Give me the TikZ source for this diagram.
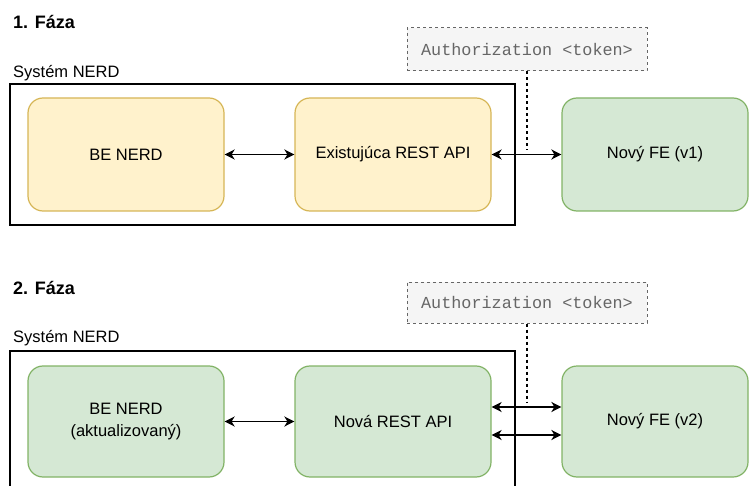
\documentclass[tikz,border=0pt]{standalone}
\usepackage{fontspec}
\setmainfont{Liberation Sans}
\newfontfamily\authmono{Liberation Mono}
\usetikzlibrary{arrows.meta}
\definecolor{yfill}{HTML}{FFF2CC}
\definecolor{ydraw}{HTML}{D6B656}
\definecolor{gfill}{HTML}{D5E8D4}
\definecolor{gdraw}{HTML}{82B366}
\definecolor{afill}{HTML}{F5F5F5}
\definecolor{adraw}{HTML}{666666}
\definecolor{atext}{HTML}{666666}
\tikzset{
  base/.style={rectangle, rounded corners=15pt, line width=1.2pt, align=center,
    font=\fontsize{16.5}{22}\selectfont, inner sep=0pt},
  ybox/.style={base, fill=yfill, draw=ydraw},
  gbox/.style={base, fill=gfill, draw=gdraw},
  sysbox/.style={rectangle, draw=black, line width=1.3pt, inner sep=0pt},
  authbox/.style={rectangle, draw=adraw, fill=afill, dash pattern=on 3pt off 3pt,
    line width=1pt, inner sep=0pt, font=\authmono\fontsize{16.8}{20}\selectfont, text=atext},
  title/.style={anchor=west, inner sep=0pt, font=\bfseries\fontsize{18}{22}\selectfont},
  syslabel/.style={anchor=west, inner sep=0pt, font=\fontsize{16.5}{20}\selectfont},
  link/.style={line width=1.8pt, {Stealth[length=10pt,width=10pt,inset=3pt]}-{Stealth[length=10pt,width=10pt,inset=3pt]}},
  dotline/.style={line width=1.6pt, dash pattern=on 3pt off 3pt, draw=black},
}
\begin{document}
\begin{tikzpicture}[x=1pt,y=-1pt]
\useasboundingbox (0,0) rectangle (749,486);
% Phase 1
\node[title] (t1) at (13,22) {1. Fáza};
\node[syslabel] (s1) at (13,73) {Systém NERD};
\node[sysbox, minimum width=505pt, minimum height=141pt] (sys1) at (262.5,154.5) {};
\node[ybox, minimum width=196pt, minimum height=113pt] (be1) at (126,154.5) {BE NERD};
\node[ybox, minimum width=196pt, minimum height=113pt] (api1) at (393,154.5) {Existujúca REST API};
\node[gbox, minimum width=186pt, minimum height=113pt] (fe1) at (655,154.5) {Nový FE (v1)};
\node[authbox, minimum width=240pt, minimum height=43pt] (auth1) at (527,49.5) {Authorization <token>};
\coordinate (d1) at (527,150);
\draw[link] (be1.east) -- (api1.west);
\draw[link] (api1.east) -- (fe1.west);
\draw[dotline] (auth1.south) -- (d1);
% Phase 2
\node[title] (t2) at (13,288) {2. Fáza};
\node[syslabel] (s2) at (13,338) {Systém NERD};
\node[sysbox, minimum width=505pt, minimum height=160pt] (sys2) at (262.5,431) {};
\node[gbox, minimum width=196pt, minimum height=111pt] (be2) at (126,421.5) {BE NERD\\(aktualizovaný)};
\node[gbox, minimum width=196pt, minimum height=111pt] (api2) at (393,421.5) {Nová REST API};
\node[gbox, minimum width=186pt, minimum height=111pt] (fe2) at (655,421.5) {Nový FE (v2)};
\node[authbox, minimum width=240pt, minimum height=41pt] (auth2) at (527,302.5) {Authorization <token>};
\coordinate (d2) at (527,403);
\draw[link] (be2.east) -- (api2.west);
\draw[link] ([yshift=14.5pt]api2.east) -- ([yshift=14.5pt]fe2.west);
\draw[link] ([yshift=-13.5pt]api2.east) -- ([yshift=-13.5pt]fe2.west);
\draw[dotline] (auth2.south) -- (d2);
\end{tikzpicture}
\end{document}
